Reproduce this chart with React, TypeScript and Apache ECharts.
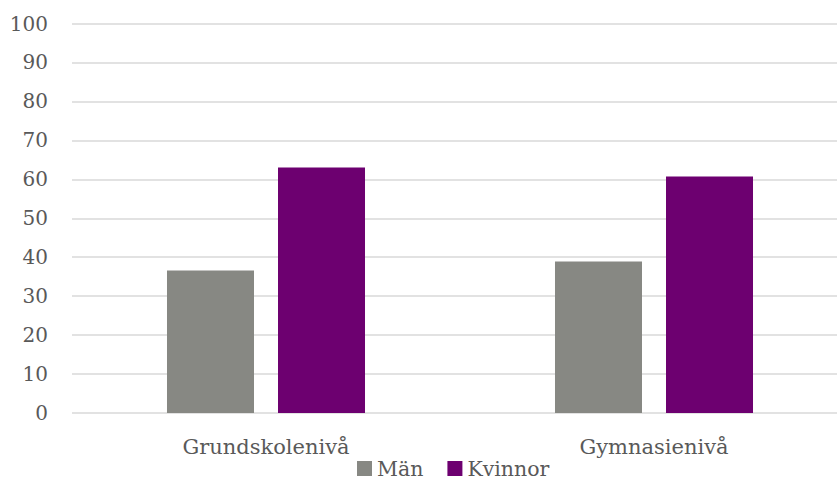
import React, { useEffect, useRef } from "react";
import * as echarts from "echarts";

const categories = ["Grundskolenivå", "Gymnasienivå"];
const manValues = [36.6, 38.9];
const kvinnorValues = [63.0, 60.7];
const seriesNames = ["Män", "Kvinnor"];

export default function App() {
  const ref = useRef<HTMLDivElement>(null);
  useEffect(() => {
    if (!ref.current) return;
    const chart = echarts.init(ref.current, null, { renderer: "svg" });
    const font = "'DejaVu Serif', 'Liberation Serif', serif";
    chart.setOption({
      animation: false,
      backgroundColor: "#ffffff",
      textStyle: { fontFamily: font },
      grid: {
        left: 72,
        top: 23.5,
        width: 776,
        height: 389.5,
        containLabel: false,
        outerBoundsMode: "none",
      },
      legend: {
        left: 357,
        top: 458,
        padding: 0,
        itemWidth: 15,
        itemHeight: 15,
        itemGap: 24,
        icon: "rect",
        textStyle: { fontFamily: font, fontSize: 20.5, lineHeight: 19, color: "#595959" },
        data: seriesNames,
      },
      xAxis: {
        type: "category",
        data: categories,
        axisLine: { show: false },
        axisTick: { show: false },
        axisLabel: { fontFamily: font, fontSize: 21, color: "#595959", margin: 23 },
      },
      yAxis: {
        type: "value",
        min: 0,
        max: 100,
        interval: 10,
        axisLine: { show: false },
        axisTick: { show: false },
        axisLabel: { fontFamily: font, fontSize: 20, color: "#595959", margin: 24 },
        splitLine: { lineStyle: { color: "#d9d9d9", width: 1.5 } },
      },
      series: [
        {
          name: seriesNames[0],
          type: "bar",
          data: manValues,
          barWidth: 87,
          barGap: "27.6%",
          itemStyle: { color: "#878883" },
        },
        {
          name: seriesNames[1],
          type: "bar",
          data: kvinnorValues,
          barWidth: 87,
          barGap: "27.6%",
          itemStyle: { color: "#6d0070" },
        },
      ],
    });
    return () => chart.dispose();
  }, []);
  return <div ref={ref} style={{ width: 837, height: 479, position: "absolute", left: 0, top: 0 }} />;
}
